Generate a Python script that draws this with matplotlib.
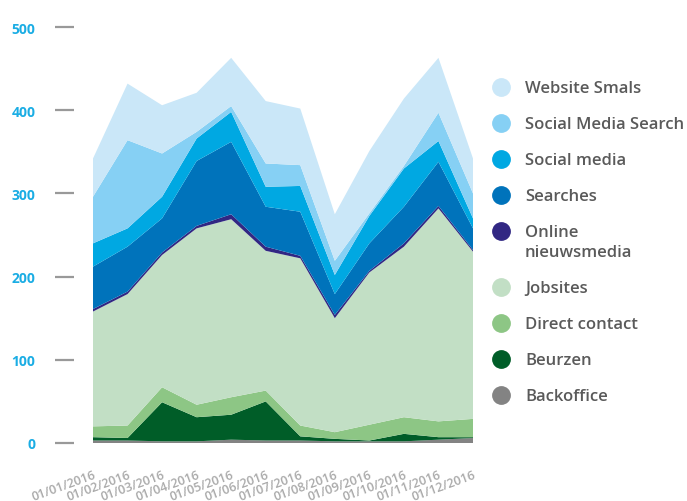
import numpy as np
import matplotlib
matplotlib.use('Agg')
from matplotlib import pyplot as plt
from matplotlib.lines import Line2D

plt.rcParams['font.family'] = ['Open Sans', 'DejaVu Sans']

months = ['01/01/2016', '01/02/2016', '01/03/2016', '01/04/2016', '01/05/2016', '01/06/2016',
          '01/07/2016', '01/08/2016', '01/09/2016', '01/10/2016', '01/11/2016', '01/12/2016']

# stacked bottom -> top
backoffice = [3, 3, 2, 2, 4, 3, 3, 2, 2, 2, 4, 6]
beurzen = [4, 3, 47, 29, 30, 47, 5, 3, 1, 9, 3, 1]
direct_contact = [13, 15, 18, 15, 21, 13, 13, 8, 19, 20, 19, 22]
jobsites = [138, 158, 159, 212, 214, 168, 201, 137, 183, 205, 256, 201]
online_nieuwsmedia = [3, 3, 3, 3, 6, 5, 3, 4, 2, 4, 3, 2]
searches = [51, 54, 41, 78, 87, 48, 53, 25, 33, 44, 53, 26]
social_media = [28, 22, 26, 27, 36, 24, 31, 23, 33, 46, 25, 12]
social_media_search = [56, 106, 52, 8, 7, 28, 25, 17, 3, 3, 34, 30]
website_smals = [46, 68, 58, 47, 58, 75, 68, 56, 75, 81, 66, 42]

yticks = [0, 100, 200, 300, 400, 500]

series = [
    ('Backoffice', backoffice, '#838383'),
    ('Beurzen', beurzen, '#005d28'),
    ('Direct contact', direct_contact, '#8dc685'),
    ('Jobsites', jobsites, '#c2dfc5'),
    ('Online\nnieuwsmedia', online_nieuwsmedia, '#312783'),
    ('Searches', searches, '#0073bb'),
    ('Social media', social_media, '#00a8e2'),
    ('Social Media Search', social_media_search, '#86d0f4'),
    ('Website Smals', website_smals, '#cae7f8'),
]

fig = plt.figure(figsize=(6.87, 5.02), dpi=100)
ax = fig.add_axes([55 / 687, 58 / 502, 418 / 687, 432.6 / 502])

x = np.arange(len(months))
ax.stackplot(x, *[s[1] for s in series], colors=[s[2] for s in series], linewidth=0)

ax.set_xlim(-38 / 34.545, len(months) - 1)
ax.set_ylim(0, 520)
for sp in ax.spines.values():
    sp.set_visible(False)

ax.set_yticks(yticks)
ax.set_yticklabels([str(t) for t in yticks], color='#1badE4', fontsize=10, fontweight='bold')
ax.tick_params(axis='y', direction='in', length=13.7, width=1.6, color='#999999', pad=14)

ax.set_xticks(x)
ax.set_xticklabels(months, rotation=20, ha='right', va='top', rotation_mode='anchor',
                   color='#aaaaaa', fontsize=9, fontweight='semibold')
ax.tick_params(axis='x', length=0, pad=18)

# legend, drawn by hand (top entry first)
ly = 89
for name, vals, col in series[::-1]:
    fig.add_artist(Line2D([501 / 687], [1 - (ly - 1) / 502], marker='o', markersize=12.5,
                          color=col, linestyle='none', transform=fig.transFigure))
    fig.text(525 / 687, 1 - ly / 502, name.split('\n')[0], fontsize=12, color='#5a5a5a',
             fontweight='semibold', va='center', ha='left')
    if '\n' in name:
        fig.text(525 / 687, 1 - (ly + 20) / 502, name.split('\n')[1], fontsize=12,
                 color='#5a5a5a', fontweight='semibold', va='center', ha='left')
        ly += 20
    ly += 36

fig.savefig('out.png', dpi=100)
